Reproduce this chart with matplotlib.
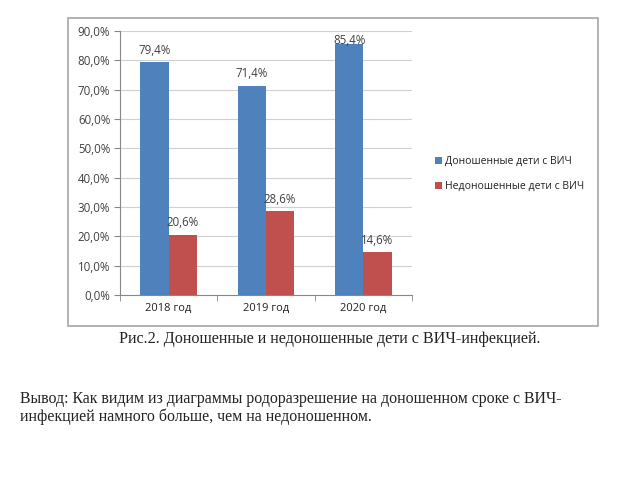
import matplotlib
matplotlib.use("Agg")
import matplotlib.pyplot as plt
from matplotlib.patches import Rectangle
import numpy as np

categories = ["2018 год", "2019 год", "2020 год"]
full_term = [79.4, 71.4, 85.4]
preterm = [20.6, 28.6, 14.6]
series_names = ["Доношенные дети с ВИЧ", "Недоношенные дети с ВИЧ"]
yticks = [0, 10, 20, 30, 40, 50, 60, 70, 80, 90]

blue = "#4F81BD"
red = "#C0504D"
txt = "#404040"

fig = plt.figure(figsize=(6.4, 4.8), dpi=100)
fig.patch.set_facecolor("white")

# chart frame
frame = Rectangle((68/640, 1-326/480), (598-68)/640, (326-18)/480,
                  transform=fig.transFigure, fill=False, edgecolor="#A6A6A6", lw=1.2)
fig.add_artist(frame)

ax = fig.add_axes([120/640, 1-295/480, (412-120)/640, (295-31)/480])
x = np.arange(len(categories))
w = 0.29
b1 = ax.bar(x - w/2, full_term, w, color=blue, label=series_names[0], zorder=3)
b2 = ax.bar(x + w/2, preterm, w, color=red, label=series_names[1], zorder=3)

for bars, vals in ((b1, full_term), (b2, preterm)):
    for r, v in zip(bars, vals):
        ax.text(r.get_x() + r.get_width()/2, min(v + 4.1, 86.9), f"{v:.1f}%".replace(".", ","),
                ha="center", va="center", fontsize=8.3, color=txt, family="Open Sans")

ax.set_xlim(-0.5, 2.5)
ax.set_ylim(0, 90)
ax.set_yticks(yticks)
ax.set_yticklabels([f"{t:.1f}%".replace(".", ",") for t in yticks], fontsize=8.3,
                   color=txt, family="Open Sans")
ax.set_xticks(x)
ax.set_xticklabels(categories, fontsize=8, color="#222222", family="Open Sans")
ax.set_xticks([-0.5, 0.5, 1.5, 2.5], minor=True)
ax.tick_params(axis="x", which="major", length=0, pad=6)
ax.tick_params(axis="x", which="minor", length=4, color="#888888")
ax.tick_params(axis="y", length=4, color="#888888", pad=3)
ax.grid(axis="y", color="#D0D0D0", lw=0.8, zorder=0)
for s in ("top", "right"):
    ax.spines[s].set_visible(False)
ax.spines["left"].set_color("#888888")
ax.spines["bottom"].set_color("#888888")

fig.legend(handles=[b1, b2], labels=series_names, loc="upper left",
           bbox_to_anchor=(426/640, 1-147/480), frameon=False,
           prop={"family": "Open Sans", "size": 7.5}, handlelength=0.6, handleheight=0.6,
           handletextpad=0.3, labelspacing=1.3, labelcolor="#222222")

fig.text(330/640, 1-339/480, "Рис.2. Доношенные и недоношенные дети с ВИЧ-инфекцией.",
         ha="center", va="center", fontsize=11.6, family="Liberation Serif", color="#222222")
fig.text(20/640, 1-399/480, "Вывод: Как видим из диаграммы родоразрешение на доношенном сроке с ВИЧ-",
         ha="left", va="center", fontsize=11.4, family="Liberation Serif", color="#222222")
fig.text(20/640, 1-417/480, "инфекцией намного больше, чем на недоношенном.",
         ha="left", va="center", fontsize=11.4, family="Liberation Serif", color="#222222")

fig.savefig("out.png", dpi=100)
